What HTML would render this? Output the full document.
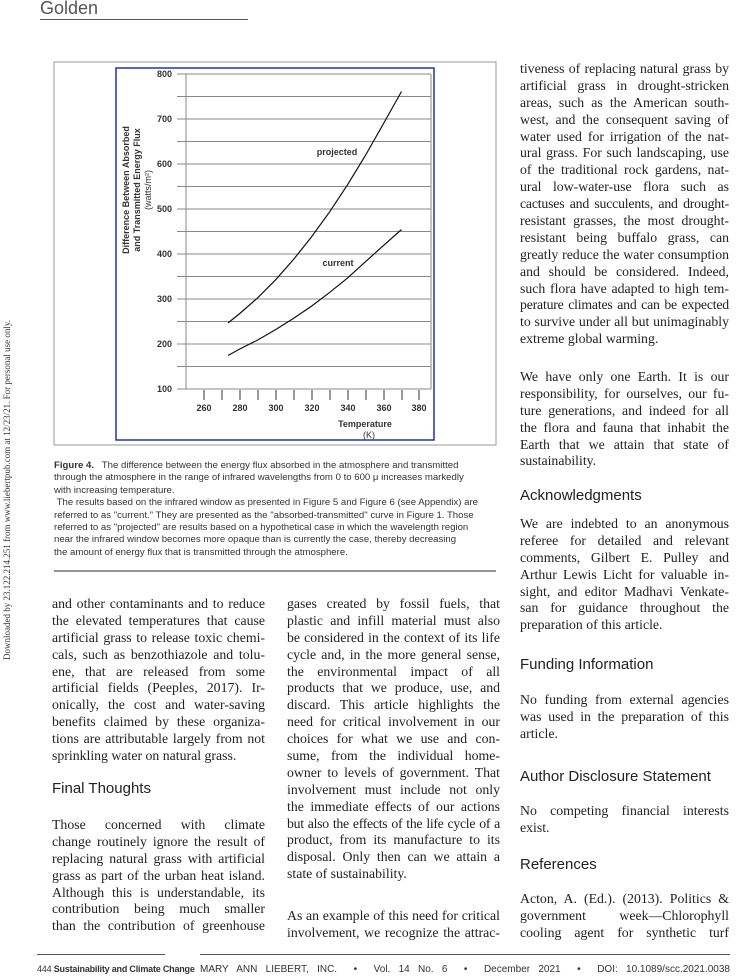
<!DOCTYPE html>
<html><head><meta charset="utf-8"><style>
body{margin:0;width:750px;height:979px;background:#fff;position:relative;overflow:hidden;font-family:"Liberation Serif",serif;color:#222}
.col{position:absolute;font-size:13.8px;line-height:16.9px}
.col div{text-align:justify;text-align-last:justify;white-space:nowrap;height:16.9px}
.col div.l{text-align-last:left}
.h{position:absolute;font-family:"Liberation Sans",sans-serif;font-size:15px;color:#222}
.cap{position:absolute;left:54px;top:460px;width:442px;font-family:"Liberation Sans",sans-serif;font-size:9.6px;line-height:12.4px;color:#333}
.cap div{white-space:nowrap}
</style></head><body>
<div style="position:absolute;left:40px;top:-2px;font-family:'Liberation Sans',sans-serif;font-size:18px;color:#555">Golden</div>
<div style="position:absolute;left:40px;top:19px;width:208px;height:1px;background:#555"></div>
<div style="position:absolute;left:2px;top:660px;transform:rotate(-90deg);transform-origin:0 0;font-size:9px;white-space:nowrap;color:#333">Downloaded by 23.122.214.251 from www.liebertpub.com at 12/23/21. For personal use only.</div>

<svg style="position:absolute;left:0;top:0" width="750" height="600">
<rect x="54" y="62" width="442" height="383" fill="none" stroke="#999" stroke-width="1"/>
<rect x="116" y="68" width="318" height="372" fill="none" stroke="#2233aa" stroke-width="1.5"/>
<g stroke="#888" stroke-width="1">
<line x1="177" y1="74" x2="431" y2="74"/><line x1="177" y1="96.5" x2="431" y2="96.5"/>
<line x1="177" y1="119" x2="431" y2="119"/><line x1="177" y1="141.5" x2="431" y2="141.5"/>
<line x1="177" y1="164" x2="431" y2="164"/><line x1="177" y1="186.5" x2="431" y2="186.5"/>
<line x1="177" y1="209" x2="431" y2="209"/><line x1="177" y1="231.5" x2="431" y2="231.5"/>
<line x1="177" y1="254" x2="431" y2="254"/><line x1="177" y1="276.5" x2="431" y2="276.5"/>
<line x1="177" y1="299" x2="431" y2="299"/><line x1="177" y1="321.5" x2="431" y2="321.5"/>
<line x1="177" y1="344" x2="431" y2="344"/><line x1="177" y1="366.5" x2="431" y2="366.5"/>
<line x1="177" y1="389" x2="431" y2="389"/>
<line x1="186" y1="74" x2="186" y2="389"/><line x1="431" y1="74" x2="431" y2="389"/>
</g>
<g stroke="#333" stroke-width="1">
<line x1="204" y1="390" x2="204" y2="400"/><line x1="222" y1="390" x2="222" y2="400"/><line x1="240" y1="390" x2="240" y2="400"/><line x1="258" y1="390" x2="258" y2="400"/><line x1="276" y1="390" x2="276" y2="400"/><line x1="294" y1="390" x2="294" y2="400"/><line x1="312" y1="390" x2="312" y2="400"/><line x1="330" y1="390" x2="330" y2="400"/><line x1="348" y1="390" x2="348" y2="400"/><line x1="366" y1="390" x2="366" y2="400"/><line x1="384" y1="390" x2="384" y2="400"/><line x1="402" y1="390" x2="402" y2="400"/><line x1="419" y1="390" x2="419" y2="400"/>
</g>
<g font-family="Liberation Sans,sans-serif" font-size="9" font-weight="bold" fill="#333" text-anchor="end">
<text x="172" y="77">800</text><text x="172" y="122">700</text><text x="172" y="167">600</text><text x="172" y="212">500</text><text x="172" y="257">400</text><text x="172" y="302">300</text><text x="172" y="347">200</text><text x="172" y="392">100</text>
</g>
<g font-family="Liberation Sans,sans-serif" font-size="9" font-weight="bold" fill="#333" text-anchor="middle">
<text x="204" y="411">260</text><text x="240" y="411">280</text><text x="276" y="411">300</text><text x="312" y="411">320</text><text x="348" y="411">340</text><text x="384" y="411">360</text><text x="419" y="411">380</text>
<text x="365" y="427">Temperature</text><text x="369" y="438" font-weight="normal">(K)</text>
<text x="337" y="155">projected</text><text x="338" y="266">current</text>
</g>
<g font-family="Liberation Sans,sans-serif" font-size="9" font-weight="bold" fill="#333" text-anchor="middle" transform="rotate(-90)">
<text x="-190" y="129">Difference Between Absorbed</text>
<text x="-190" y="140">and Transmitted Energy Flux</text>
<text x="-190" y="151" font-weight="normal">(watts/m²)</text>
</g>
<polyline fill="none" stroke="#111" stroke-width="1.2" points="228,323 239.8,313.5 257.7,297.8 275.6,279.8 293.5,259.5 311.4,237 329.3,212.3 347.2,185.3 365.1,156 383,124.5 401.5,91.5"/>
<polyline fill="none" stroke="#111" stroke-width="1.2" points="228,355.5 239.8,349 257.7,340 275.6,329.6 293.5,318.4 311.4,306.2 329.3,292.7 347.2,278.3 365.1,262.1 383,245.9 401.5,229.5"/>
<line x1="54" y1="571" x2="496" y2="571" stroke="#555" stroke-width="1.2"/>
</svg>
<div class="cap">
<div><b>Figure 4.</b>&nbsp;&nbsp; The difference between the energy flux absorbed in the atmosphere and transmitted</div>
<div>through the atmosphere in the range of infrared wavelengths from 0 to 600 μ increases markedly</div>
<div>with increasing temperature.</div>
<div>&nbsp;The results based on the infrared window as presented in Figure 5 and Figure 6 (see Appendix) are</div>
<div>referred to as "current." They are presented as the "absorbed-transmitted" curve in Figure 1. Those</div>
<div>referred to as "projected" are results based on a hypothetical case in which the wavelength region</div>
<div>near the infrared window becomes more opaque than is currently the case, thereby decreasing</div>
<div>the amount of energy flux that is transmitted through the atmosphere.</div>
</div>

<div class="col" style="left:52px;top:596px;width:213px">
<div>and other contaminants and to reduce</div><div>the elevated temperatures that cause</div><div>artificial grass to release toxic chemi-</div><div>cals, such as benzothiazole and tolu-</div><div>ene, that are released from some</div><div>artificial fields (Peeples, 2017). Ir-</div><div>onically, the cost and water-saving</div><div>benefits claimed by these organiza-</div><div>tions are attributable largely from not</div><div class="l">sprinkling water on natural grass.</div>
</div>
<div class="h" style="left:52px;top:780px">Final Thoughts</div>
<div class="col" style="left:52px;top:817px;width:213px">
<div>Those concerned with climate</div><div>change routinely ignore the result of</div><div>replacing natural grass with artificial</div><div>grass as part of the urban heat island.</div><div>Although this is understandable, its</div><div>contribution being much smaller</div><div>than the contribution of greenhouse</div>
</div>
<div class="col" style="left:287px;top:596px;width:213px">
<div>gases created by fossil fuels, that</div><div>plastic and infill material must also</div><div>be considered in the context of its life</div><div>cycle and, in the more general sense,</div><div>the environmental impact of all</div><div>products that we produce, use, and</div><div>discard. This article highlights the</div><div>need for critical involvement in our</div><div>choices for what we use and con-</div><div>sume, from the individual home-</div><div>owner to levels of government. That</div><div>involvement must include not only</div><div>the immediate effects of our actions</div><div style="letter-spacing:-0.3px">but also the effects of the life cycle of a</div><div>product, from its manufacture to its</div><div>disposal. Only then can we attain a</div><div class="l">state of sustainability.</div><div></div>
<div style="margin-top:8px">As an example of this need for critical</div><div>involvement, we recognize the attrac-</div>
</div>
<div class="col" style="left:520px;top:61px;width:209px">
<div>tiveness of replacing natural grass by</div><div>artificial grass in drought-stricken</div><div>areas, such as the American south-</div><div>west, and the consequent saving of</div><div>water used for irrigation of the nat-</div><div>ural grass. For such landscaping, use</div><div>of the traditional rock gardens, nat-</div><div>ural low-water-use flora such as</div><div style="letter-spacing:-0.2px">cactuses and succulents, and drought-</div><div>resistant grasses, the most drought-</div><div>resistant being buffalo grass, can</div><div>greatly reduce the water consumption</div><div>and should be considered. Indeed,</div><div>such flora have adapted to high tem-</div><div style="letter-spacing:-0.2px">perature climates and can be expected</div><div>to survive under all but unimaginably</div><div class="l">extreme global warming.</div>
</div>
<div class="col" style="left:520px;top:369px;width:209px">
<div>We have only one Earth. It is our</div><div>responsibility, for ourselves, our fu-</div><div>ture generations, and indeed for all</div><div>the flora and fauna that inhabit the</div><div>Earth that we attain that state of</div><div class="l">sustainability.</div>
</div>
<div class="h" style="left:520px;top:487px">Acknowledgments</div>
<div class="col" style="left:520px;top:516px;width:209px">
<div>We are indebted to an anonymous</div><div>referee for detailed and relevant</div><div>comments, Gilbert E. Pulley and</div><div>Arthur Lewis Licht for valuable in-</div><div>sight, and editor Madhavi Venkate-</div><div>san for guidance throughout the</div><div class="l">preparation of this article.</div>
</div>
<div class="h" style="left:520px;top:656px">Funding Information</div>
<div class="col" style="left:520px;top:692px;width:209px">
<div>No funding from external agencies</div><div>was used in the preparation of this</div><div class="l">article.</div>
</div>
<div class="h" style="left:520px;top:768px">Author Disclosure Statement</div>
<div class="col" style="left:520px;top:803px;width:209px">
<div>No competing financial interests</div><div class="l">exist.</div>
</div>
<div class="h" style="left:520px;top:856px">References</div>
<div class="col" style="left:520px;top:891px;width:209px">
<div>Acton, A. (Ed.). (2013). Politics &amp;</div><div>government week—Chlorophyll</div><div>cooling agent for synthetic turf</div>
</div>

<div style="position:absolute;left:37px;top:954px;width:128px;height:1px;background:#555"></div>
<div style="position:absolute;left:200px;top:954px;width:530px;height:1px;background:#555"></div>
<div style="position:absolute;left:37px;top:964px;font-family:'Liberation Sans',sans-serif;font-size:9px;white-space:nowrap;color:#333;letter-spacing:-0.2px">444 <b>Sustainability and Climate Change</b></div>
<div style="position:absolute;left:200px;top:964px;width:530px;font-family:'Liberation Sans',sans-serif;font-size:10px;white-space:nowrap;color:#333;text-align:justify;text-align-last:justify">MARY ANN LIEBERT, INC. &nbsp;• &nbsp;Vol. 14 No. 6 &nbsp;• &nbsp;December 2021 &nbsp;• &nbsp;DOI: 10.1089/scc.2021.0038</div>
</body></html>
